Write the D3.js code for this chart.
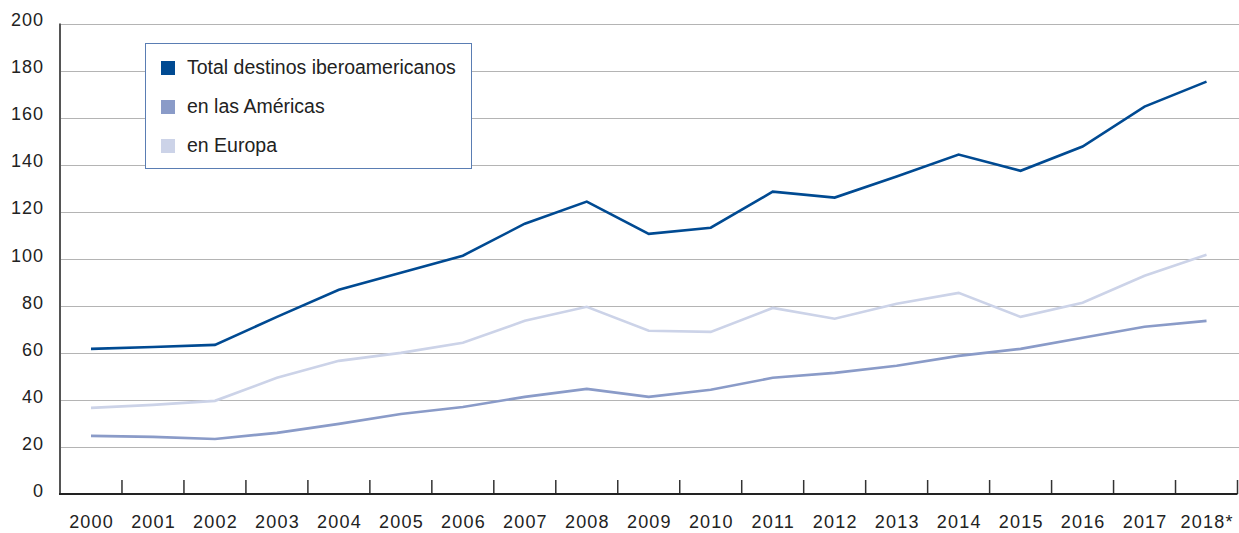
<!DOCTYPE html>
<html>
<head>
<meta charset="utf-8">
<script src="https://cdn.jsdelivr.net/npm/d3@7"></script>
<style>
  body { margin: 0; background: #fff; }
  text { font-family: "Liberation Sans", Arial, sans-serif; }
</style>
</head>
<body>
<svg id="chart"></svg>
<script>
// Years on the x axis
const years = ["2000", "2001", "2002", "2003", "2004", "2005", "2006", "2007", "2008", "2009",
               "2010", "2011", "2012", "2013", "2014", "2015", "2016", "2017", "2018*"];

// Series values
const total = [61.7, 62.5, 63.4, 75.3, 86.8, 94, 101.3, 114.9, 124.3, 110.6,
               113.2, 128.5, 126, 135, 144.3, 137.4, 147.7, 164.7, 175.3];
const americas = [24.7, 24.3, 23.4, 26, 29.8, 34, 37, 41.3, 44.7, 41.3,
                  44.3, 49.4, 51.5, 54.5, 58.7, 61.7, 66.4, 71.1, 73.6];
const europa = [36.6, 37.9, 39.6, 49.4, 56.6, 60, 64.3, 73.6, 79.6, 69.4,
                68.9, 79.1, 74.5, 80.9, 85.5, 75.3, 81.3, 92.8, 101.7];

const seriesNames = ["Total destinos iberoamericanos", "en las Américas", "en Europa"];
const seriesColors = ["#004a92", "#8a9bc8", "#ccd3e8"];
const yTicks = [0, 20, 40, 60, 80, 100, 120, 140, 160, 180, 200];

const width = 1239;
const height = 533;
const margin = {top: 23.5, right: 1.5, bottom: 39, left: 60};

const svg = d3.select("#chart")
    .attr("width", width)
    .attr("height", height);

// Scales
const x = d3.scaleBand()
    .domain(years)
    .range([margin.left, width - margin.right]);

const y = d3.scaleLinear()
    .domain([0, 200])
    .range([height - margin.bottom, margin.top]);

// Gridlines
svg.append("g")
    .selectAll("line")
    .data(yTicks.filter(d => d > 0))
    .enter()
    .append("line")
    .attr("x1", margin.left)
    .attr("x2", width)
    .attr("y1", d => Math.round(y(d)) + 0.5)
    .attr("y2", d => Math.round(y(d)) + 0.5)
    .attr("stroke", "#b4b4b4")
    .attr("stroke-width", 1);

// Y tick labels
svg.append("g")
    .selectAll("text")
    .data(yTicks)
    .enter()
    .append("text")
    .attr("x", 44)
    .attr("y", d => y(d) - 2)
    .attr("text-anchor", "end")
    .attr("dominant-baseline", "middle")
    .attr("font-size", 18)
    .attr("letter-spacing", 1)
    .attr("fill", "#222")
    .text(d => d);

// Y axis line
svg.append("line")
    .attr("x1", margin.left)
    .attr("x2", margin.left)
    .attr("y1", y(200))
    .attr("y2", y(0))
    .attr("stroke", "#555")
    .attr("stroke-width", 2);

// X axis: ticks at band boundaries pointing up
const boundaries = years.slice(1).map(d => x(d)).concat([x.range()[1]]);
svg.append("g")
    .selectAll("line")
    .data(boundaries)
    .enter()
    .append("line")
    .attr("x1", d => d)
    .attr("x2", d => d)
    .attr("y1", y(0))
    .attr("y2", y(0) - 14)
    .attr("stroke", "#333")
    .attr("stroke-width", 1.5);

svg.append("line")
    .attr("x1", margin.left - 1)
    .attr("x2", x.range()[1])
    .attr("y1", y(0))
    .attr("y2", y(0))
    .attr("stroke", "#222")
    .attr("stroke-width", 2);

svg.append("g")
    .selectAll("text")
    .data(years)
    .enter()
    .append("text")
    .attr("x", d => x(d) + x.bandwidth() / 2 + 0.6)
    .attr("y", 523)
    .attr("text-anchor", "middle")
    .attr("dominant-baseline", "middle")
    .attr("font-size", 18)
    .attr("letter-spacing", 1.2)
    .attr("fill", "#222")
    .text(d => d);

// Lines (draw light ones first)
const line = d3.line()
    .x((d, i) => x(years[i]) + x.bandwidth() / 2)
    .y(d => y(d));

[[europa, 2], [americas, 1], [total, 0]].forEach(([values, i]) => {
    svg.append("path")
        .datum(values)
        .attr("fill", "none")
        .attr("stroke", seriesColors[i])
        .attr("stroke-width", 2.6)
        .attr("stroke-linejoin", "miter")
        .attr("d", line);
});

// Legend
const legend = svg.append("g");
legend.append("rect")
    .attr("x", 145.5)
    .attr("y", 43.5)
    .attr("width", 326)
    .attr("height", 125)
    .attr("fill", "#fff")
    .attr("stroke", "#5a7db3")
    .attr("stroke-width", 1);

seriesNames.forEach((name, i) => {
    const cy = 68 + i * 39;
    legend.append("rect")
        .attr("x", 161)
        .attr("y", cy - 7)
        .attr("width", 14)
        .attr("height", 14)
        .attr("fill", seriesColors[i]);
    legend.append("text")
        .attr("x", 187)
        .attr("y", cy + 1)
        .attr("dominant-baseline", "middle")
        .attr("font-size", 19.5)
        .attr("fill", "#222")
        .text(name);
});
</script>
</body>
</html>
